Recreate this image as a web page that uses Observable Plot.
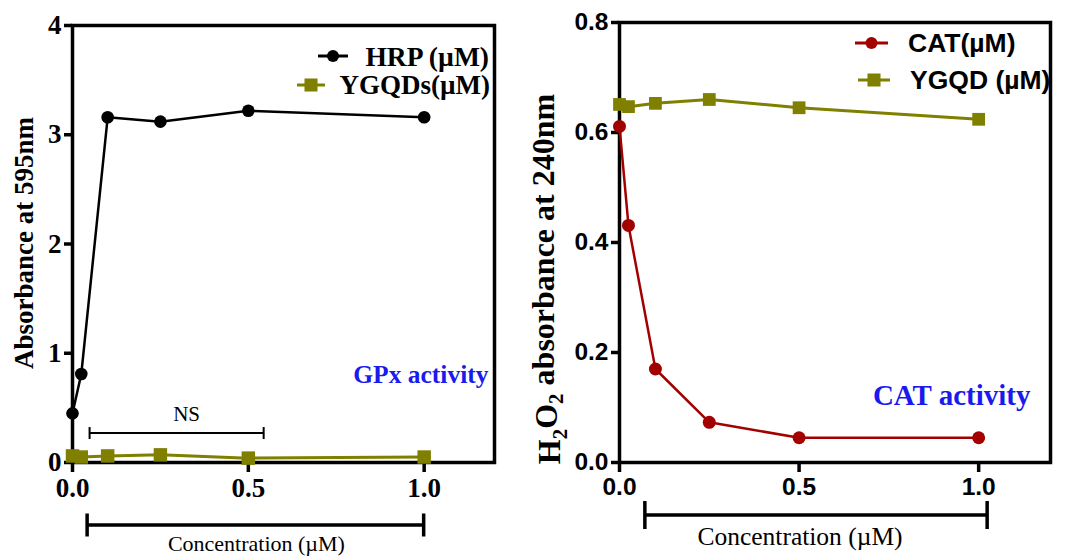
<!DOCTYPE html>
<html><head><meta charset="utf-8">
<script src="https://cdn.jsdelivr.net/npm/d3@7"></script>
<script src="https://cdn.jsdelivr.net/npm/@observablehq/plot@0.6"></script>
<style>
body{margin:0;background:#fff;}
#wrap{position:relative;width:1068px;height:557px;overflow:hidden;background:#fff;}
#left{position:absolute;left:0;top:0;}
#right{position:absolute;left:530px;top:0;}
svg{overflow:visible;}
</style></head><body><div id="wrap"><div id="left"></div><div id="right"></div></div>
<script>
// ---- data ----
const conc = [0, 0.025, 0.1, 0.25, 0.5, 1.0];
const hrp = [0.45, 0.81, 3.16, 3.12, 3.22, 3.16];
const ygqdsGpx = [0.06, 0.05, 0.06, 0.07, 0.04, 0.05];
const cat = [0.611, 0.431, 0.170, 0.073, 0.045, 0.045];
const ygqdCat = [0.651, 0.647, 0.653, 0.660, 0.645, 0.624];
const xTicks = [0, 0.5, 1.0];
const yTicksGpx = [0, 1, 2, 3, 4];
const yTicksCat = [0, 0.2, 0.4, 0.6, 0.8];
const legendGpx = ["HRP (\u00b5M)", "YGQDs(\u00b5M)"];
const legendCat = ["CAT(\u00b5M)", "YGQD (\u00b5M)"];
const nsSpan = [0.05, 0.545];      // NS bracket, concentration units
const nsLevel = 0.265;             // absorbance level of NS bracket
const concSpanGpx = [0.043, 1.0];  // concentration bracket under left axis
const concSpanCat = [0.072, 1.025];// concentration bracket under right axis

const serif = "'Liberation Serif','Times New Roman',serif";
const sans = "'Liberation Sans',Arial,sans-serif";
const olive = "#7f7f00";
const red = "#a30000";
const blue = "#1a1aee";

const rowsGpx = conc.map((c, i) => ({c, hrp: hrp[i], yg: ygqdsGpx[i]}));
const rowsCat = conc.map((c, i) => ({c, cat: cat[i], yg: ygqdCat[i]}));

// ---- left panel ----
const left = Plot.plot({
  width: 530, height: 557,
  marginLeft: 72, marginRight: 36, marginTop: 25, marginBottom: 95,
  style: {fontFamily: serif, fontSize: "27px", fontWeight: "bold", background: "transparent", color: "#000", overflow: "visible"},
  x: {domain: [0, 1.2]},
  y: {domain: [0, 4]},
  marks: [
    Plot.axisY({ticks: yTicksGpx, tickSize: 8, tickPadding: 3, strokeWidth: 3.5, tickFormat: d3.format("d"), fontSize: 27, fontFamily: serif, fontWeight: "bold", label: null}),
    Plot.axisX({ticks: xTicks, tickSize: 10, tickPadding: 5, strokeWidth: 3.5, tickFormat: d3.format(".1f"), fontSize: 27, fontFamily: serif, fontWeight: "bold", label: null}),
    Plot.frame({stroke: "#000", strokeWidth: 3.5}),
    Plot.line(rowsGpx, {x: "c", y: "yg", stroke: olive, strokeWidth: 3}),
    Plot.dot(rowsGpx, {x: "c", y: "yg", symbol: "square", r: 7.6, fill: olive}),
    Plot.line(rowsGpx, {x: "c", y: "hrp", stroke: "#000", strokeWidth: 2.5}),
    Plot.dot(rowsGpx, {x: "c", y: "hrp", r: 6.3, fill: "#000"}),
    Plot.text(["GPx activity"], {frameAnchor: "bottom-right", lineAnchor: "middle", dx: -6, dy: -88, fill: blue, fontSize: 25.5, fontWeight: "bold"})
  ]
});
document.getElementById("left").appendChild(left);

// ---- right panel ----
const right = Plot.plot({
  width: 538, height: 557,
  marginLeft: 89, marginRight: 18, marginTop: 22, marginBottom: 95,
  style: {fontFamily: sans, fontSize: "24px", fontWeight: "bold", background: "transparent", color: "#000", overflow: "visible"},
  x: {domain: [0, 1.2]},
  y: {domain: [0, 0.8]},
  marks: [
    Plot.axisY({ticks: yTicksCat, tickSize: 8, tickPadding: 3, strokeWidth: 3.5, tickFormat: d3.format(".1f"), fontSize: 24.5, fontFamily: sans, fontWeight: "bold", label: null}),
    Plot.axisX({ticks: xTicks, tickSize: 10, tickPadding: 5, strokeWidth: 3.5, tickFormat: d3.format(".1f"), fontSize: 24.5, fontFamily: sans, fontWeight: "bold", label: null}),
    Plot.frame({stroke: "#000", strokeWidth: 3.5}),
    Plot.line(rowsCat, {x: "c", y: "yg", stroke: olive, strokeWidth: 3}),
    Plot.dot(rowsCat, {x: "c", y: "yg", symbol: "square", r: 7.2, fill: olive}),
    Plot.line(rowsCat, {x: "c", y: "cat", stroke: red, strokeWidth: 2.5}),
    Plot.dot(rowsCat, {x: "c", y: "cat", r: 6.5, fill: red}),
    Plot.text(["CAT activity"], {fontFamily: serif, frameAnchor: "bottom-right", lineAnchor: "middle", dx: -20, dy: -67, fill: blue, fontSize: 29, fontWeight: "bold"})
  ]
});
document.getElementById("right").appendChild(right);

// ---- annotations drawn through the plots' scales ----
function bracket(svg, xs, ys, span, yv, capPx, sw) {
  const g = d3.select(svg).append("g").attr("stroke", "#000").attr("stroke-width", sw).attr("fill", "none");
  const x1 = xs.apply(span[0]), x2 = xs.apply(span[1]), y = ys.apply(yv);
  g.append("line").attr("x1", x1).attr("x2", x2).attr("y1", y).attr("y2", y);
  g.append("line").attr("x1", x1).attr("x2", x1).attr("y1", y - capPx).attr("y2", y + capPx);
  g.append("line").attr("x1", x2).attr("x2", x2).attr("y1", y - capPx).attr("y2", y + capPx);
  return {x1, x2, y};
}
function legend(svg, items, y0, gap, family, anchorRight) {
  const s = d3.select(svg);
  items.forEach((it, i) => {
    const y = y0 + i * gap;
    const g = s.append("g");
    g.append("line").attr("x1", it.lx1).attr("x2", it.lx2).attr("y1", y).attr("y2", y)
      .attr("stroke", it.color).attr("stroke-width", 3);
    const cx = (it.lx1 + it.lx2) / 2;
    if (it.sym === "circle") g.append("circle").attr("cx", cx).attr("cy", y).attr("r", 6).attr("fill", it.color);
    else g.append("rect").attr("x", cx - 6.5).attr("y", y - 6.5).attr("width", 13).attr("height", 13).attr("fill", it.color);
    g.append("text").attr("x", it.tx).attr("y", y).attr("dy", "0.35em")
      .attr("text-anchor", anchorRight ? "end" : "start")
      .attr("font-family", family).attr("font-weight", "bold").attr("font-size", it.fs).attr("fill", "#000")
      .text(it.label);
  });
}

// left panel extras
{
  const xs = left.scale("x"), ys = left.scale("y");
  const ns = bracket(left, xs, ys, nsSpan, nsLevel, 6, 2);
  d3.select(left).append("text").attr("x", (ns.x1 + ns.x2) / 2 + 10).attr("y", ns.y - 19).attr("dy", "0.35em")
    .attr("text-anchor", "middle").attr("font-family", serif).attr("font-weight", "normal").attr("font-size", 21).attr("fill", "#000").text("NS");
  const cb = bracket(left, xs, ys, concSpanGpx, ys.invert(525), 11.5, 3.5);
  d3.select(left).append("text").attr("x", (cb.x1 + cb.x2) / 2 + 1).attr("y", 551)
    .attr("text-anchor", "middle").attr("font-family", serif).attr("font-weight", "normal").attr("font-size", 22).attr("fill", "#000").text("Concentration (\u00b5M)");
  d3.select(left).append("text").attr("transform", "translate(24,243) rotate(-90)").attr("dy", "0.35em")
    .attr("text-anchor", "middle").attr("font-family", serif).attr("font-weight", "bold").attr("font-size", 27).attr("fill", "#000")
    .text("Absorbance at 595nm");
  legend(left, [
    {label: legendGpx[0], color: "#000", sym: "circle", lx1: 318, lx2: 348, tx: 489, fs: 27.5},
    {label: legendGpx[1], color: olive, sym: "square", lx1: 297, lx2: 325, tx: 490, fs: 27}
  ], 56, 29, serif, true);
}

// right panel extras
{
  const xs = right.scale("x"), ys = right.scale("y");
  const cb = bracket(right, xs, ys, concSpanCat, ys.invert(515), 14, 3.5);
  d3.select(right).append("text").attr("x", (cb.x1 + cb.x2) / 2 - 16).attr("y", 545)
    .attr("text-anchor", "middle").attr("font-family", serif).attr("font-weight", "normal").attr("font-size", 25.5).attr("fill", "#000").text("Concentration (\u00b5M)");
  const t = d3.select(right).append("text").attr("transform", "translate(19,279) rotate(-90)").attr("dy", "0.35em")
    .attr("text-anchor", "middle").attr("font-family", serif).attr("font-weight", "bold").attr("font-size", 32).attr("fill", "#000");
  t.append("tspan").text("H");
  t.append("tspan").attr("font-size", 21).attr("dy", "0.3em").text("2");
  t.append("tspan").attr("dy", "-0.3em").text("O");
  t.append("tspan").attr("font-size", 21).attr("dy", "0.3em").text("2");
  t.append("tspan").attr("dy", "-0.3em").text(" absorbance at 240nm");
  legend(right, [
    {label: legendCat[0], color: red, sym: "circle", lx1: 325, lx2: 358, tx: 378, fs: 26.5},
    {label: legendCat[1], color: olive, sym: "square", lx1: 328, lx2: 360, tx: 380, fs: 26.5}
  ], 43, 37, sans, false);
}
</script></body></html>
